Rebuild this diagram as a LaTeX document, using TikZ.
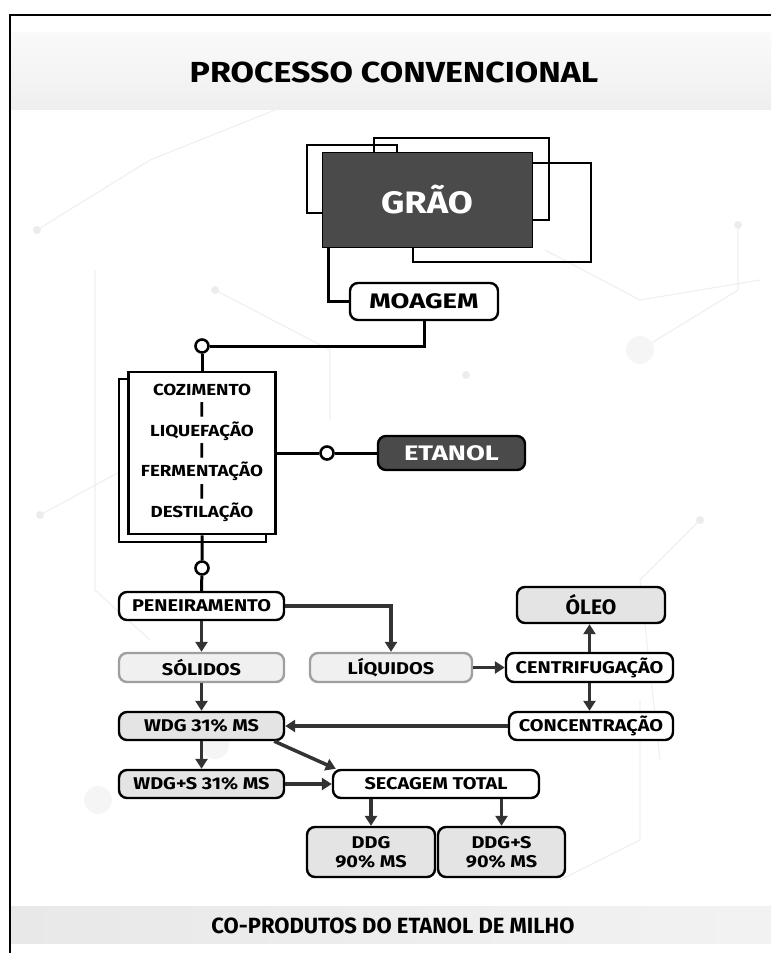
\documentclass[tikz,border=0pt]{standalone}
\usepackage{fontspec}
\setmainfont{Fira Sans}
\newfontfamily\largo{Fira Sans}[FakeStretch=1.17]
\newfontfamily\largomais{Fira Sans}[FakeStretch=1.3]
\usetikzlibrary{arrows.meta}
\definecolor{caixaescura}{HTML}{4A4A4A}
\definecolor{caixaclara}{HTML}{E4E4E4}
\definecolor{setacor}{HTML}{333333}
\definecolor{fundo}{HTML}{EFEFEF}
\tikzset{
  etapa/.style={draw=black, line width=2.4pt, rounded corners=8pt, fill=white,
    minimum height=28pt, inner sep=0pt, font=\largo\bfseries\fontsize{17}{19}\selectfont},
  clara/.style={etapa, fill=caixaclara},
  suave/.style={etapa, draw=gray!75, fill=gray!12},
  contorno/.style={draw=black, line width=2.5pt},
  liga/.style={line width=3pt, black},
  seta/.style={line width=3.5pt, setacor, -{Triangle[length=10pt,width=12pt]}},
  bola/.style={circle, draw=black, line width=2.6pt, fill=white, minimum size=13pt, inner sep=0pt},
  rede/.style={gray!12, line width=1.2pt},
}
\begin{document}
\begin{tikzpicture}[x=1pt,y=-1pt]
\useasboundingbox (0,0) rectangle (771,953);
% fundo
\draw[rede] (37,230)--(150,160)--(300,100);
\draw[rede] (95,270)--(95,590)--(150,640);
\draw[rede] (215,290)--(330,350)--(330,420);
\draw[rede] (640,350)--(738,290)--(738,225);
\draw[rede] (545,250)--(640,300)--(760,280);
\draw[rede] (40,515)--(160,450);
\draw[rede] (700,520)--(640,580)--(660,760);
\draw[rede] (560,880)--(640,840)--(640,700);
\foreach \p in {(37,230),(40,515),(215,290),(738,225),(700,520),(466,375)}
{
    \fill[gray!15] \p circle (4);
}
\foreach \p in {(213,395),(640,350),(98,800),(215,745)}
{
    \fill[gray!8] \p circle (14);
}
% moldura e faixas
\shade[top color=gray!4, bottom color=fundo] (10,32) rectangle (771,109);
\shade[left color=gray!18, right color=gray!10] (10,906) rectangle (771,943);
\draw[line width=1.5pt] (10,953)--(10,15)--(771,15);
\node[font=\largo\bfseries\fontsize{29}{31}\selectfont] (titulo) at (394,72) {PROCESSO CONVENCIONAL};
\node[font=\bfseries\fontsize{22}{24}\selectfont] (rodape) at (393,926) {CO-PRODUTOS DO ETANOL DE MILHO};
% grao
\draw[contorno] (307,145) rectangle (397,213);
\draw[contorno] (374,138) rectangle (549,220);
\draw[contorno] (413,163) rectangle (591,262);
\node[fill=caixaescura, draw=black, line width=1pt, minimum width=210pt, minimum height=95pt,
  text=white, font=\largo\bfseries\fontsize{31}{33}\selectfont] (grao) at (427,200) {GRÃO};
\node[etapa, minimum width=148pt, minimum height=37pt, font=\largomais\bfseries\fontsize{21}{23}\selectfont] (moa) at (424,301.5) {MOAGEM};
\draw[liga] ([xshift=7pt]grao.south west) |- (moa.west);
% processo
\node[bola] (b1) at (202,346) {};
\draw[liga] (moa.south) |- (b1.east);
\draw[contorno, fill=white] (119,379) rectangle (266,542);
\node[contorno, fill=white, minimum width=147pt, minimum height=162pt, inner sep=0pt, align=center,
  font=\largo\bfseries\fontsize{16}{20.3}\selectfont] (proc) at (202,453)
  {COZIMENTO\\|\\LIQUEFAÇÃO\\|\\FERMENTAÇÃO\\|\\DESTILAÇÃO};
\draw[liga] (b1) -- (proc.north);
\node[etapa, fill=caixaescura, minimum width=147pt, minimum height=34pt, text=white,
  font=\largomais\bfseries\fontsize{21}{23}\selectfont] (eta) at (451.5,453) {ETANOL};
\node[bola] (b2) at (327,453) {};
\draw[liga] (proc.east) -- (b2) -- (eta.west);
\node[bola] (b3) at (202,568) {};
% coprodutos
\node[etapa, minimum width=165pt] (pen) at (201.5,606) {PENEIRAMENTO};
\draw[liga] (proc.south) -- (b3) -- (pen.north);
\node[suave, minimum width=165pt, minimum height=29pt] (sol) at (201.5,667.5) {SÓLIDOS};
\node[suave, minimum width=162pt, minimum height=29pt] (liq) at (391,667.5) {LÍQUIDOS};
\node[etapa, minimum width=167pt, minimum height=29pt] (cen) at (589.5,667.5) {CENTRIFUGAÇÃO};
\node[clara, minimum width=148pt, minimum height=36pt, font=\bfseries\fontsize{21}{23}\selectfont] (oleo) at (591,605) {ÓLEO};
\node[etapa, minimum width=164pt] (con) at (591,726) {CONCENTRAÇÃO};
\node[clara, minimum width=165pt] (wdg) at (201.5,726) {WDG 31\% MS};
\node[clara, minimum width=165pt] (wdgs) at (201.5,784) {WDG+S 31\% MS};
\node[etapa, minimum width=206pt] (sec) at (436,784) {SECAGEM TOTAL};
\node[clara, minimum width=128pt, minimum height=50pt, align=center] (ddg) at (371,852) {DDG\\90\% MS};
\node[clara, minimum width=127pt, minimum height=50pt, align=center] (ddgs) at (501.5,852) {DDG+S\\90\% MS};
\draw[seta] (pen.south) -- (sol.north);
\draw[seta] (pen.east) -| (liq.north);
\draw[seta] (liq.east) -- (cen.west);
\draw[seta] (cen.north) -- (cen.north |- oleo.south);
\draw[seta] (cen.south) -- (cen.south |- con.north);
\draw[seta] (con.west) -- (wdg.east);
\draw[seta] (sol.south) -- (wdg.north);
\draw[seta] (wdg.south) -- (wdgs.north);
\draw[seta] ([xshift=-11pt]wdg.south east) -- ([xshift=4pt]sec.north west);
\draw[seta] (wdgs.east) -- (sec.west);
\draw[seta] (ddg.north |- sec.south) -- (ddg.north);
\draw[seta] (ddgs.north |- sec.south) -- (ddgs.north);
\end{tikzpicture}
\end{document}
